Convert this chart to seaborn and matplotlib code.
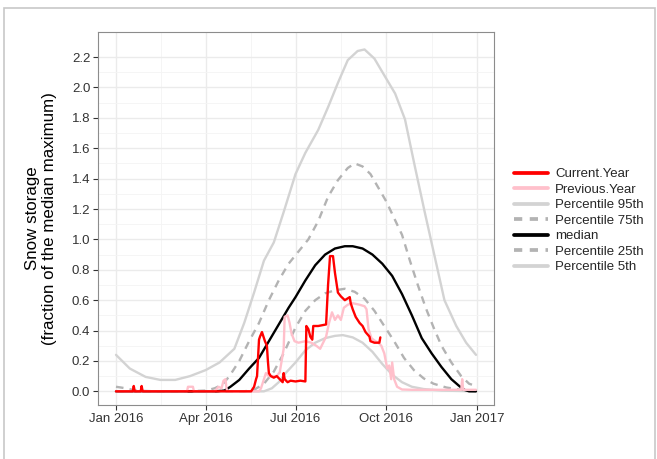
import matplotlib
matplotlib.use("Agg")
import matplotlib.pyplot as plt
import matplotlib.lines as mlines
import seaborn as sns
import pandas as pd

# values, x given as day of year 2016 (0 = Jan 1)
p95_days = [0, 14, 30, 45, 60, 75, 91, 105, 120, 130, 140, 150, 160, 170, 182, 192, 205, 215,
            225, 235, 245, 252, 262, 272, 283, 293, 303, 313, 323, 333, 345, 355, 365]
p95_vals = [0.24, 0.15, 0.095, 0.075, 0.075, 0.10, 0.14, 0.19, 0.28, 0.45, 0.65, 0.86, 0.98, 1.18,
            1.43, 1.57, 1.72, 1.87, 2.03, 2.18, 2.24, 2.25, 2.19, 2.08, 1.96, 1.79, 1.48, 1.18,
            0.89, 0.60, 0.43, 0.32, 0.24]

p75_days = [0, 10, 20, 40, 70, 91, 100, 108, 115, 125, 135, 145, 155, 165, 175, 185, 195, 205,
            215, 225, 235, 242, 250, 258, 266, 274, 282, 290, 298, 306, 314, 322, 330, 340, 350,
            358, 365]
p75_vals = [0.03, 0.02, 0.005, 0.0, 0.0, 0.005, 0.02, 0.045, 0.10, 0.20, 0.33, 0.45, 0.60, 0.73,
            0.84, 0.92, 1.0, 1.12, 1.28, 1.39, 1.47, 1.50, 1.48, 1.43, 1.34, 1.25, 1.14, 1.03,
            0.86, 0.70, 0.55, 0.42, 0.30, 0.19, 0.10, 0.05, 0.035]

median_days = [0, 60, 100, 110, 116, 125, 135, 145, 155, 165, 175, 182, 192, 202, 212, 222, 232,
               240, 250, 260, 270, 280, 290, 300, 310, 320, 330, 340, 348, 353, 358, 365]
median_vals = [0.0, 0.0, 0.0, 0.005, 0.03, 0.075, 0.15, 0.22, 0.33, 0.44, 0.55, 0.62, 0.73, 0.83,
               0.90, 0.94, 0.955, 0.955, 0.94, 0.90, 0.84, 0.76, 0.64, 0.50, 0.35, 0.25, 0.16,
               0.08, 0.035, 0.01, 0.0, 0.0]

p25_days = [0, 130, 140, 150, 160, 170, 182, 192, 202, 212, 222, 232, 242, 252, 262, 272, 282,
            292, 302, 312, 322, 335, 350, 365]
p25_vals = [0.0, 0.0, 0.01, 0.05, 0.13, 0.25, 0.42, 0.53, 0.60, 0.645, 0.665, 0.675, 0.655, 0.61,
            0.53, 0.43, 0.33, 0.22, 0.14, 0.085, 0.05, 0.025, 0.01, 0.0]

p5_days = [0, 150, 158, 165, 172, 182, 192, 202, 212, 222, 230, 240, 250, 260, 270, 280, 290,
           300, 312, 330, 365]
p5_vals = [0.0, 0.0, 0.02, 0.06, 0.12, 0.19, 0.27, 0.32, 0.35, 0.365, 0.37, 0.355, 0.32, 0.26,
           0.18, 0.11, 0.06, 0.03, 0.015, 0.005, 0.0]

prev_days = [0, 72, 73, 78, 79, 100, 104, 107, 109, 111, 112, 113, 145, 147, 150, 152, 155, 158,
             163, 166, 170, 171, 174, 176, 178, 181, 185, 192, 198, 203, 207, 210, 213, 216, 219,
             222, 225, 228, 231, 235, 240, 247, 252, 254, 256, 259, 263, 266, 269, 272, 275, 277,
             279, 280, 282, 285, 290, 300, 330, 350, 351, 352, 365]
prev_vals = [0.0, 0.0, 0.03, 0.03, 0.0, 0.0, 0.03, 0.02, 0.07, 0.08, 0.02, 0.0, 0.0, 0.02, 0.08,
             0.12, 0.10, 0.10, 0.10, 0.125, 0.28, 0.49, 0.50, 0.45, 0.38, 0.33, 0.32, 0.33, 0.32,
             0.30, 0.28, 0.32, 0.36, 0.45, 0.52, 0.47, 0.50, 0.47, 0.55, 0.57, 0.58, 0.57, 0.56,
             0.54, 0.41, 0.35, 0.33, 0.32, 0.30, 0.25, 0.15, 0.17, 0.08, 0.19, 0.08, 0.03, 0.012,
             0.01, 0.01, 0.01, 0.08, 0.01, 0.01]

curr_days = [0, 17, 18, 19, 25, 26, 27, 137, 140, 142, 143, 145, 146, 148, 149, 151, 153, 154,
             155, 157, 160, 163, 166, 169, 170, 171, 174, 177, 182, 187, 192, 193, 195, 197, 199,
             200, 205, 213, 215, 217, 220, 222, 225, 228, 232, 237, 238, 240, 243, 247, 250, 253,
             257, 258, 262, 267, 268]
curr_vals = [0.0, 0.0, 0.035, 0.0, 0.0, 0.035, 0.0, 0.0, 0.03, 0.08, 0.10, 0.34, 0.36, 0.39,
             0.37, 0.33, 0.30, 0.20, 0.12, 0.10, 0.09, 0.10, 0.08, 0.06, 0.12, 0.08, 0.06, 0.07,
             0.065, 0.07, 0.065, 0.43, 0.41, 0.36, 0.34, 0.43, 0.43, 0.44, 0.70, 0.89, 0.89, 0.78,
             0.65, 0.625, 0.60, 0.62, 0.58, 0.54, 0.49, 0.45, 0.43, 0.39, 0.36, 0.33, 0.32, 0.32,
             0.355]

start = pd.Timestamp("2016-01-01")


def to_dates(days):
    return start + pd.to_timedelta(days, unit="D")


sns.set_theme(style="whitegrid")
plt.rcParams["font.family"] = ["Liberation Sans", "DejaVu Sans"]

fig = plt.figure(figsize=(6.57, 4.59), dpi=100)
ax = fig.add_axes([98 / 657, 1 - 405 / 459, 396 / 657, 373 / 459])

lw = 1.7
grey_light = "#D3D3D3"
grey_dash = "#B3B3B3"
dash = (3.2, 2.6)

sns.lineplot(x=to_dates(p95_days), y=p95_vals, ax=ax, color=grey_light, lw=lw)
sns.lineplot(x=to_dates(p5_days), y=p5_vals, ax=ax, color=grey_light, lw=lw)
l75 = sns.lineplot(x=to_dates(p75_days), y=p75_vals, ax=ax, color=grey_dash, lw=lw).lines[-1]
l75.set_dashes(dash)
l25 = sns.lineplot(x=to_dates(p25_days), y=p25_vals, ax=ax, color=grey_dash, lw=lw).lines[-1]
l25.set_dashes(dash)
sns.lineplot(x=to_dates(median_days), y=median_vals, ax=ax, color="black", lw=lw)
sns.lineplot(x=to_dates(prev_days), y=prev_vals, ax=ax, color="pink", lw=lw)
sns.lineplot(x=to_dates(curr_days), y=curr_vals, ax=ax, color="red", lw=lw)

# axes limits (ggplot style 5% expansion)
pad = pd.Timedelta(days=18.25)
ax.set_xlim(start - pad, pd.Timestamp("2016-12-31") + pad)
ax.set_ylim(-0.09, 2.365)

xticks = pd.to_datetime(["2016-01-01", "2016-04-01", "2016-07-01", "2016-10-01", "2017-01-01"])
xlabels = ["Jan 2016", "Apr 2016", "Jul 2016", "Oct 2016", "Jan 2017"]
ax.set_xticks(xticks)
ax.set_xticklabels(xlabels)
xminor = [xticks[i] + (xticks[i + 1] - xticks[i]) / 2 for i in range(4)]
ax.set_xticks(xminor, minor=True)

yticks = [i * 0.2 for i in range(12)]
ax.set_yticks(yticks)
ax.set_yticklabels([f"{v:.1f}" for v in yticks])
ax.set_yticks([0.1 + i * 0.2 for i in range(11)], minor=True)

ax.grid(which="major", color="#EBEBEB", lw=1.0)
ax.grid(which="minor", color="#F4F4F4", lw=0.6)
ax.set_axisbelow(True)
for s in ax.spines.values():
    s.set_color("#8C8C8C")
    s.set_linewidth(0.8)

ax.tick_params(which="major", length=3.5, width=0.8, color="#333333", labelsize=9.5,
               labelcolor="#333333", pad=2, bottom=True, left=True)
ax.tick_params(which="minor", length=0, bottom=False, left=False)

ax.set_xlabel("")
ax.set_ylabel("Snow storage\n(fraction of the median maximum)", fontsize=12.2, color="black",
              labelpad=11, linespacing=1.1)

handles = [
    mlines.Line2D([], [], color="red", lw=lw + 1.0),
    mlines.Line2D([], [], color="pink", lw=lw + 1.0),
    mlines.Line2D([], [], color=grey_light, lw=lw + 1.0),
    mlines.Line2D([], [], color=grey_dash, lw=lw + 1.0, dashes=(2.2, 2.0)),
    mlines.Line2D([], [], color="black", lw=lw + 1.0),
    mlines.Line2D([], [], color=grey_dash, lw=lw + 1.0, dashes=(2.2, 2.0)),
    mlines.Line2D([], [], color=grey_light, lw=lw + 1.0),
]
labels = ["Current.Year", "Previous.Year", "Percentile 95th", "Percentile 75th", "median",
          "Percentile 25th", "Percentile 5th"]
fig.legend(handles, labels, loc="upper left", bbox_to_anchor=(514 / 657, 1 - 168 / 459),
           frameon=False, fontsize=9.5, handlelength=2.6, handletextpad=0.5,
           labelspacing=0.25, borderpad=0, borderaxespad=0)

# outer frame of the figure
frame = plt.Rectangle((4 / 657, -0.01), 651 / 657, 1 - 8 / 459 + 0.01, transform=fig.transFigure,
                      fill=False, edgecolor="#C8C8C8", lw=1.2)
fig.add_artist(frame)

fig.savefig("out.png", dpi=100)
